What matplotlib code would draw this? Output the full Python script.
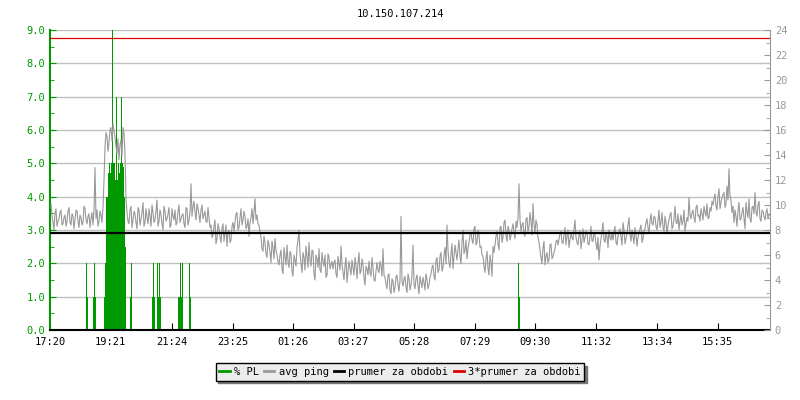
import numpy as np
import matplotlib
matplotlib.use("Agg")
import matplotlib.pyplot as plt
from matplotlib.lines import Line2D

# casova osa: minuty od 17:20, 24 hodin
tick_min = [0, 121, 244, 365, 486, 607, 728, 849, 970, 1092, 1214, 1335]
tick_lbl = ["17:20", "19:21", "21:24", "23:25", "01:26", "03:27",
            "05:28", "07:29", "09:30", "11:32", "13:34", "15:35"]

# avg ping [ms], sude vzorky (kazde 4 minuty od 2. minuty)
ping_a = [10.1, 8.6, 9.3, 8.3, 8.9, 9.6, 8.5, 9.2, 8.7, 9.8, 8.4, 9.1, 8.8, 9.5, 8.2, 9.0, 8.6, 9.7, 8.5, 9.3, 8.9, 8.4, 13.0, 9.6, 8.7, 9.2, 9.8,
          14.6, 15.5, 15.0, 16.2, 16.5, 15.4, 14.1, 13.6, 15.2, 16.2, 14.0,
          9.4, 8.5, 9.9, 8.8, 9.3, 8.1, 9.6, 8.9, 10.2, 8.6, 9.0, 9.7, 8.3, 9.4, 8.8, 10.4, 8.7, 9.2, 8.0, 9.5, 8.9, 9.8, 8.4, 9.1, 9.6, 8.6, 10.0, 8.9, 9.3, 8.2, 9.7, 8.8,
          11.7, 9.9, 9.4, 10.1, 9.2, 9.6, 8.9, 9.5, 8.6, 9.0,
          8.4, 7.6, 8.8, 7.3, 8.1, 7.0, 8.5, 7.7, 6.7, 8.0, 7.2, 8.6,
          8.6, 9.4, 8.2, 9.7, 8.8, 9.1, 8.3, 7.5, 9.0, 8.5, 10.5, 9.2, 8.4,
          7.4, 6.3, 7.0, 5.8, 6.8, 5.4, 6.6, 7.3, 6.0,
          5.2, 6.4, 4.5, 5.9, 6.8, 5.0, 6.1, 4.3, 5.6, 6.6, 8.0, 5.4, 6.2, 4.8, 5.9, 7.0, 5.1, 6.3, 4.0, 5.7, 6.5, 4.6, 5.5, 6.0, 4.4, 5.8, 5.2,
          4.9, 5.6, 4.2, 5.3, 6.7, 4.6, 5.1, 3.8, 5.5, 4.4, 5.0, 5.8, 4.1, 6.2, 4.7, 5.2, 3.6, 4.9, 5.5, 4.3, 5.0, 3.9, 5.4, 4.6, 5.1, 6.5,
          4.2, 3.3, 4.5, 2.9, 3.9, 3.4, 4.4, 3.1,
          9.1,
          3.5, 4.3, 3.0, 4.1, 3.6, 6.8, 3.3, 4.4, 2.9, 3.8, 4.2, 3.2, 4.0, 3.6,
          4.5, 5.2, 4.0, 5.8, 4.8, 6.2, 5.0, 6.6, 8.4, 5.4, 6.1, 4.9, 6.8, 5.6, 7.2, 5.3, 8.0, 6.4, 5.7, 7.0,
          7.8, 6.9, 8.3, 7.0, 7.6, 6.7,
          5.9, 4.6, 6.3, 4.4, 5.4, 6.7,
          6.8, 7.9, 6.4, 8.3, 7.4, 8.8, 7.1, 8.0, 7.6, 8.5, 7.3, 8.2,
          11.7,
          7.9, 8.6, 7.5, 9.0, 8.2, 8.7, 10.1, 7.8, 8.4,
          7.0, 5.8, 6.6, 5.2, 6.2, 5.6, 6.9, 5.9, 6.5, 7.2,
          7.3, 7.9, 6.9, 8.2, 7.5, 6.6, 7.8, 7.2, 8.8, 7.0, 7.6, 6.5, 8.1, 7.4, 7.7, 6.8, 8.3, 7.1, 7.6, 6.4, 5.6, 7.3, 8.6, 7.0, 7.5, 8.0, 7.2,
          7.2, 8.3, 6.8, 7.9, 7.4, 8.6, 6.9, 7.7, 9.0, 7.1, 7.5, 8.2, 6.7, 7.8, 8.4, 7.3,
          8.1, 8.9, 7.8, 9.3, 8.4, 9.0, 8.0, 9.6, 8.6, 8.2, 9.1, 7.7, 8.8, 9.4, 8.3, 9.9, 8.5, 8.0, 9.2, 8.7, 7.9, 9.0,
          10.6,
          8.9, 9.6, 8.6, 10.0, 9.2, 9.7, 8.8, 9.4, 10.1, 9.0, 9.5,
          10.0, 10.9, 9.6, 11.3, 10.2, 10.8, 9.8, 11.5, 12.9, 10.4, 9.9,
          9.6, 8.3, 10.2, 8.9, 9.8, 8.1, 9.4, 10.5, 8.6, 9.9, 11.0, 9.1, 10.3, 8.7, 9.5, 8.8, 9.7, 9.3]

# avg ping [ms], liche vzorky (kazde 4 minuty od 4. minuty)
ping_b = [9.2, 8.0, 9.7, 8.7, 9.4, 8.4, 9.0, 8.3, 9.5, 8.6, 9.3, 8.1, 9.6, 8.7, 9.2, 8.4, 9.9, 8.8, 9.1, 8.2, 9.4, 9.6, 8.9, 8.3, 9.5, 8.6, 12.0,
          15.8, 14.3, 16.0, 15.1, 15.9, 14.7, 15.3, 14.8, 13.9, 15.7, 10.5,
          8.7, 9.6, 8.2, 9.5, 8.6, 9.8, 8.4, 9.4, 8.3, 9.7, 8.5, 9.1, 10.0, 8.6, 9.5, 8.3, 9.6, 8.5, 9.9, 8.7, 9.3, 8.2, 9.7, 8.8, 8.4, 9.5, 8.6, 9.2, 8.5, 9.8, 8.4, 9.4,
          9.1, 10.3, 8.8, 9.7, 8.6, 10.0, 9.2, 8.7, 9.8, 8.2,
          7.4, 8.3, 6.9, 8.5, 7.5, 8.2, 7.1, 8.4, 7.8, 7.0, 8.3, 7.9,
          9.3, 8.0, 9.0, 8.4, 9.5, 8.1, 8.9, 8.6, 9.7, 9.4, 8.8, 8.5, 7.9,
          6.5, 7.5, 6.1, 7.2, 6.2, 7.1, 5.7, 6.4, 5.5,
          6.0, 4.9, 6.6, 5.2, 5.5, 6.3, 4.7, 6.0, 5.1, 7.2, 6.1, 4.6, 5.8, 6.7, 5.0, 5.6, 6.4, 4.5, 6.0, 5.0, 4.8, 6.2, 5.1, 4.2, 6.1, 4.9, 5.5,
          5.4, 4.5, 5.9, 4.8, 5.3, 4.0, 5.8, 4.7, 4.9, 5.6, 4.4, 5.2, 5.3, 4.5, 5.7, 4.2, 5.1, 4.4, 4.6, 5.8, 4.0, 4.7, 4.8, 5.5, 4.3, 4.4,
          3.7, 4.4, 3.2, 4.1, 3.0, 4.3, 3.6, 4.0,
          3.9,
          4.1, 3.4, 4.5, 3.2, 4.4, 3.7, 4.1, 3.5, 4.3, 3.4, 3.8, 4.5, 3.3, 4.2,
          5.0, 4.3, 5.5, 4.6, 5.9, 4.7, 6.0, 5.3, 6.4, 5.0, 6.9, 5.8, 6.2, 6.5, 5.9, 7.0, 6.1, 7.2, 6.5, 7.6,
          7.2, 8.1, 6.8, 8.0, 6.6, 6.0,
          5.1, 5.7, 4.9, 6.0, 4.3, 6.2,
          7.5, 6.9, 8.2, 7.0, 8.6, 7.6, 8.3, 7.2, 8.1, 7.8, 8.7, 9.0,
          8.8,
          8.4, 7.7, 8.9, 7.9, 9.4, 7.6, 8.5, 8.8, 7.4,
          6.4, 5.3, 7.1, 5.9, 5.4, 6.8, 5.7, 6.2, 7.1, 6.8,
          7.7, 7.0, 7.6, 6.8, 8.0, 7.2, 7.4, 8.1, 7.4, 6.8, 7.9, 7.2, 7.0, 7.9, 6.9, 7.5, 7.1, 7.8, 6.9, 7.4, 6.7, 7.9, 7.2, 7.7, 6.6, 7.4, 7.8,
          7.8, 7.0, 7.5, 8.1, 6.8, 8.0, 7.3, 8.4, 7.6, 8.0, 6.9, 7.6, 7.4, 8.1, 7.0, 7.9,
          8.6, 8.2, 8.7, 8.5, 9.1, 8.3, 8.8, 8.2, 9.4, 7.9, 8.6, 8.4, 9.2, 8.1, 8.9, 8.6, 9.3, 8.7, 8.4, 9.6, 8.5, 8.7,
          9.2,
          9.4, 9.0, 9.8, 9.1, 8.7, 9.3, 9.9, 9.1, 8.9, 9.8, 10.3,
          10.5, 9.9, 10.7, 9.7, 10.6, 11.0, 10.1, 10.4, 10.7, 9.4, 8.6,
          9.1, 9.5, 8.8, 9.4, 8.9, 10.2, 9.0, 8.9, 9.8, 9.3, 9.5, 10.0, 8.9, 9.6, 9.1, 9.4, 8.9, 9.2]

# packet loss [%]
pl_min = [72, 74, 86, 88, 90,
          108, 110, 112, 114, 116, 118, 120, 122, 124, 126, 128, 130, 132, 134,
          136, 138, 140, 142, 144, 146, 148, 150,
          160, 162, 204, 206, 208, 214, 216, 218, 220,
          256, 258, 260, 262, 264, 278, 280, 936, 938]
pl_val = [2.0, 1.0, 1.0, 2.0, 1.0,
          1.0, 2.0, 4.0, 4.0, 4.7, 5.0, 4.7, 5.0, 9.0, 5.0, 5.0, 4.5, 7.0, 4.5,
          5.0, 4.7, 5.0, 7.0, 5.0, 4.9, 4.0, 2.5,
          1.0, 2.0, 1.0, 2.0, 1.0, 2.0, 1.0, 2.0, 1.0,
          1.0, 1.0, 2.0, 1.0, 2.0, 2.0, 1.0, 2.0, 1.0]

prumer = 7.8

green = "#009900"
grey = "#999999"
mono = "DejaVu Sans Mono"

fig = plt.figure(figsize=(8, 4), dpi=100)
ax = fig.add_axes([50/800, 70/400, 720/800, 300/400])
ax2 = ax.twinx()

ax.bar(pl_min, pl_val, width=2, align="edge", color=green, linewidth=0)
ax.set_xlim(0, 1440)
ax.set_ylim(0, 9)
ax.set_yticks(np.arange(0, 10, 1))
ax.set_yticks(np.arange(0.5, 9, 1), minor=True)
ax.set_yticklabels(["%.1f" % v for v in range(10)])
ax.grid(axis="y", color="#c0c0c0", linewidth=1)
ax.set_axisbelow(True)
ax.tick_params(axis="y", which="both", direction="in", colors=green,
               labelsize=7.5, length=4)
ax.tick_params(axis="y", which="minor", length=3)
ax.set_xticks(tick_min)
ax.set_xticklabels(tick_lbl)
ax.tick_params(axis="x", direction="in", length=5, labelsize=7.5, pad=5)
for t in ax.get_xticklabels() + ax.get_yticklabels():
    t.set_family(mono)

# slouceni sudych a lichych vzorku podle casu
t_all = np.concatenate([np.arange(len(ping_a)) * 4 + 2, np.arange(len(ping_b)) * 4 + 4])
v_all = np.concatenate([ping_a, ping_b])
order = np.argsort(t_all, kind="stable")
ax2.plot(t_all[order], v_all[order], color=grey, linewidth=0.8)
ax2.axhline(prumer, color="black", linewidth=1.6)
ax2.axhline(3 * prumer, color="#dd0000", linewidth=0.9)
ax2.set_ylim(0, 24)
ax2.set_yticks(np.arange(0, 25, 2))
ax2.set_yticks(np.arange(1, 24, 2), minor=True)
ax2.tick_params(axis="y", which="both", direction="in", colors=grey,
                labelsize=7.5, length=4)
ax2.tick_params(axis="y", which="minor", length=3)
for t in ax2.get_yticklabels():
    t.set_family(mono)

for a in (ax, ax2):
    a.spines["top"].set_visible(False)
ax.spines["left"].set_color(green)
ax.spines["left"].set_linewidth(1.5)
ax2.spines["left"].set_visible(False)
ax2.spines["right"].set_color(grey)
ax.spines["right"].set_visible(False)
ax2.spines["bottom"].set_visible(False)
ax.spines["bottom"].set_linewidth(1.5)

fig.text(0.5, 1 - 14/400, "10.150.107.214", ha="center", va="center",
         family=mono, fontsize=7.5)

handles = [Line2D([], [], color=green, lw=2),
           Line2D([], [], color=grey, lw=2),
           Line2D([], [], color="black", lw=2),
           Line2D([], [], color="#dd0000", lw=2)]
labels = ["% PL", "avg ping", "prumer za obdobi", "3*prumer za obdobi"]
leg = fig.legend(handles, labels, loc="center", bbox_to_anchor=(0.5, 1 - 372/400),
                 ncol=4, frameon=True, fancybox=False,
                 shadow={"ox": 2, "oy": -2, "color": "#777777", "alpha": 1},
                 prop={"family": mono, "size": 7.5},
                 handlelength=1.0, handletextpad=0.4, columnspacing=0.5,
                 borderpad=0.35)
leg.get_frame().set_facecolor("#ececec")
leg.get_frame().set_edgecolor("black")
leg.get_frame().set_alpha(1)

fig.savefig("out.png", dpi=100)
